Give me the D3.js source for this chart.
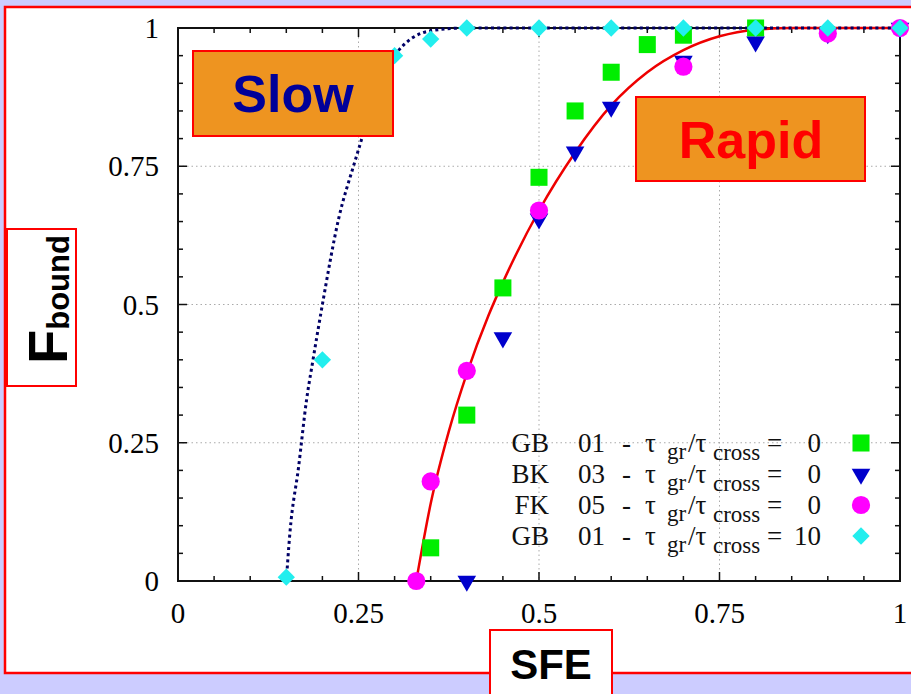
<!DOCTYPE html>
<html>
<head>
<meta charset="utf-8">
<script src="https://cdn.jsdelivr.net/npm/d3@7"></script>
<style>
  body { margin: 0; background: #ccccff; }
  svg { display: block; }
</style>
</head>
<body>
<svg id="chart" width="911" height="694"></svg>
<script>
// data
var gb01X = [0.35, 0.4, 0.45, 0.5, 0.55, 0.6, 0.65, 0.7, 0.8];
var gb01Y = [0.06, 0.30, 0.53, 0.73, 0.85, 0.92, 0.97, 0.987, 1.0];

var bk03X = [0.4, 0.45, 0.5, 0.55, 0.6, 0.7, 0.8, 0.9, 1.0];
var bk03Y = [0.0, 0.44, 0.655, 0.776, 0.857, 0.94, 0.975, 0.99, 1.0];

var fk05X = [0.33, 0.35, 0.4, 0.5, 0.7, 0.9, 1.0];
var fk05Y = [0.0, 0.18, 0.38, 0.67, 0.93, 0.99, 1.0];

var gb10X = [0.15, 0.2, 0.3, 0.35, 0.4, 0.5, 0.6, 0.7, 0.8, 0.9, 1.0];
var gb10Y = [0.007, 0.40, 0.95, 0.98, 1.0, 1.0, 1.0, 1.0, 1.0, 1.0, 1.0];

// fitted curves (traced)
var rapidX = [0.33, 0.35, 0.375, 0.4, 0.43, 0.45, 0.5, 0.55, 0.6, 0.65, 0.7, 0.75, 0.8, 0.85, 1.0];
var rapidY = [0.0, 0.14, 0.27, 0.375, 0.48, 0.54, 0.67, 0.775, 0.86, 0.92, 0.96, 0.985, 0.997, 1.0, 1.0];

var slowX = [0.15, 0.155, 0.167, 0.178, 0.187, 0.2, 0.223, 0.243, 0.25, 0.275, 0.3, 0.35, 0.4, 1.0];
var slowY = [0.0, 0.087, 0.206, 0.327, 0.40, 0.5, 0.658, 0.75, 0.78, 0.885, 0.95, 0.995, 1.0, 1.0];

var xTicks = [0, 0.25, 0.5, 0.75, 1];
var yTicks = [0, 0.25, 0.5, 0.75, 1];
var xTickLabels = ["0", "0.25", "0.5", "0.75", "1"];
var yTickLabels = ["0", "0.25", "0.5", "0.75", "1"];

var legendNames = ["GB", "BK", "FK", "GB"];
var legendNums = ["01", "03", "05", "01"];
var legendVals = ["0", "0", "0", "10"];

var svg = d3.select("#chart");
var pLeft = 178, pRight = 900, pTop = 28, pBottom = 581;

var x = d3.scaleLinear().domain([0, 1]).range([pLeft, pRight]);
var y = d3.scaleLinear().domain([0, 1]).range([pBottom, pTop]);

function zip(xs, ys) { return xs.map(function(v, i) { return [v, ys[i]]; }); }

// white panel with red frame
svg.append("rect").attr("x", 5).attr("y", 7).attr("width", 930).attr("height", 666)
  .attr("fill", "#fff").attr("stroke", "#ff0000").attr("stroke-width", 2.5);

// grid
var grid = svg.append("g").attr("stroke", "#aaa").attr("stroke-width", 1).attr("stroke-dasharray", "1.5,3");
[0.25, 0.5, 0.75].forEach(function(v) {
  grid.append("line").attr("x1", x(v)).attr("x2", x(v)).attr("y1", pTop).attr("y2", pBottom);
  grid.append("line").attr("y1", y(v)).attr("y2", y(v)).attr("x1", pLeft).attr("x2", pRight);
});

// ticks on all four sides, pointing inward
var minor = d3.range(0, 1.0001, 0.05);
var tk = svg.append("g").attr("stroke", "#111").attr("stroke-width", 1.5);
minor.forEach(function(v) {
  var major = Math.abs(v * 4 - Math.round(v * 4)) < 1e-6;
  var len = major ? 9 : 5;
  tk.append("line").attr("x1", x(v)).attr("x2", x(v)).attr("y1", pBottom).attr("y2", pBottom - len);
  tk.append("line").attr("x1", x(v)).attr("x2", x(v)).attr("y1", pTop).attr("y2", pTop + len);
  tk.append("line").attr("y1", y(v)).attr("y2", y(v)).attr("x1", pLeft).attr("x2", pLeft + len);
  tk.append("line").attr("y1", y(v)).attr("y2", y(v)).attr("x1", pRight).attr("x2", pRight - len);
});

svg.append("rect").attr("x", pLeft).attr("y", pTop).attr("width", pRight - pLeft).attr("height", pBottom - pTop)
  .attr("fill", "none").attr("stroke", "#111").attr("stroke-width", 2);

// tick labels
var serif = "'Liberation Serif', 'DejaVu Serif', serif";
svg.append("g").selectAll("text").data(xTicks).enter().append("text")
  .attr("x", function(d) { return x(d); }).attr("y", 623)
  .attr("text-anchor", "middle").attr("font-family", serif).attr("font-size", 29)
  .text(function(d, i) { return xTickLabels[i]; });
svg.append("g").selectAll("text").data(yTicks).enter().append("text")
  .attr("x", 159).attr("y", function(d) { return y(d) + 10; })
  .attr("text-anchor", "end").attr("font-family", serif).attr("font-size", 29)
  .text(function(d, i) { return yTickLabels[i]; });

// curves
var line = d3.line().x(function(d) { return x(d[0]); }).y(function(d) { return y(d[1]); })
  .curve(d3.curveMonotoneX);
svg.append("path").datum(zip(rapidX, rapidY)).attr("d", line)
  .attr("fill", "none").attr("stroke", "#ee0000").attr("stroke-width", 2.5);
svg.append("path").datum(zip(slowX, slowY)).attr("d", line)
  .attr("fill", "none").attr("stroke", "#000066").attr("stroke-width", 3)
  .attr("stroke-dasharray", "3,3.2");

// markers
var sq = d3.symbol().type(d3.symbolSquare).size(290);
var tri = d3.symbol().type(d3.symbolTriangle).size(150);
var circ = d3.symbol().type(d3.symbolCircle).size(260);
var dia = d3.symbol().type(d3.symbolSquare).size(150);

var series = [
  { xs: gb01X, ys: gb01Y, sym: sq, color: "#00ee00", rot: 0 },
  { xs: bk03X, ys: bk03Y, sym: tri, color: "#0000cc", rot: 180 },
  { xs: fk05X, ys: fk05Y, sym: circ, color: "#ff00ff", rot: 0 },
  { xs: gb10X, ys: gb10Y, sym: dia, color: "#22eeee", rot: 45 }
];
series.forEach(function(s) {
  svg.append("g").selectAll("path").data(zip(s.xs, s.ys)).enter().append("path")
    .attr("d", s.sym)
    .attr("transform", function(d) { return "translate(" + x(d[0]) + "," + y(d[1]) + ") rotate(" + s.rot + ")"; })
    .attr("fill", s.color);
});

// legend
var lg = svg.append("g").attr("font-family", serif).attr("fill", "#111");
series.forEach(function(s, i) {
  var cy = 443 + i * 31, by = cy + 9;
  lg.append("text").attr("x", 549).attr("y", by).attr("text-anchor", "end").attr("font-size", 27).text(legendNames[i]);
  lg.append("text").attr("x", 578).attr("y", by).attr("font-size", 27).text(legendNums[i]);
  lg.append("text").attr("x", 622).attr("y", by).attr("font-size", 27).text("-");
  lg.append("text").attr("x", 645).attr("y", by).attr("font-size", 27).text("τ");
  lg.append("text").attr("x", 667).attr("y", by + 7).attr("font-size", 23).text("gr");
  lg.append("text").attr("x", 688).attr("y", by).attr("font-size", 27).text("/τ");
  lg.append("text").attr("x", 713).attr("y", by + 8).attr("font-size", 23).text("cross");
  lg.append("text").attr("x", 767).attr("y", by).attr("font-size", 27).text("=");
  lg.append("text").attr("x", 821).attr("y", by).attr("text-anchor", "end").attr("font-size", 27).text(legendVals[i]);
  lg.append("path").attr("d", s.sym)
    .attr("transform", "translate(861," + cy + ") rotate(" + s.rot + ")")
    .attr("fill", s.color);
});

// annotation boxes
var sans = "'Liberation Sans', Arial, sans-serif";
function box(x0, y0, w, h, fill) {
  svg.append("rect").attr("x", x0).attr("y", y0).attr("width", w).attr("height", h)
    .attr("fill", fill).attr("stroke", "#ff0000").attr("stroke-width", 2);
}
box(193, 51, 200, 85, "#ee9420");
svg.append("text").attr("x", 293).attr("y", 112).attr("text-anchor", "middle")
  .attr("font-family", sans).attr("font-weight", "bold").attr("font-size", 52).attr("fill", "#000099").text("Slow");

box(636, 97, 229, 84, "#ee9420");
svg.append("text").attr("x", 751).attr("y", 158).attr("text-anchor", "middle")
  .attr("font-family", sans).attr("font-weight", "bold").attr("font-size", 52).attr("fill", "#ff0000").text("Rapid");

box(7, 229, 69, 157, "#fff");
var ft = svg.append("text").attr("transform", "translate(67,364) rotate(-90)")
  .attr("font-family", sans).attr("font-weight", "bold").attr("fill", "#000");
ft.append("tspan").attr("font-size", 56).text("F");
ft.append("tspan").attr("font-size", 31).attr("dy", 2).text("bound");

box(490, 630, 122, 80, "#fff");
svg.append("text").attr("x", 551).attr("y", 679).attr("text-anchor", "middle")
  .attr("font-family", sans).attr("font-weight", "bold").attr("font-size", 42).attr("fill", "#000").text("SFE");
</script>
</body>
</html>
